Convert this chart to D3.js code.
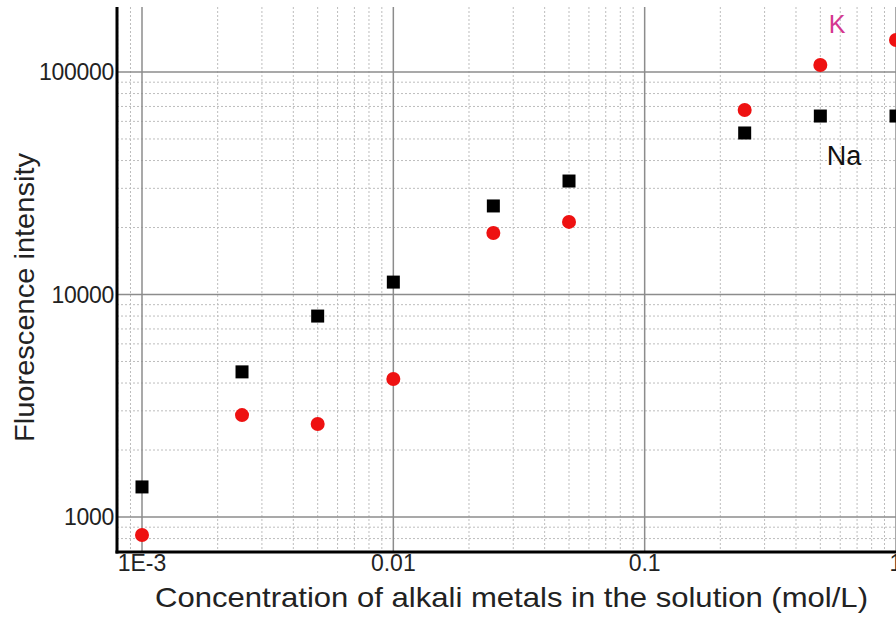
<!DOCTYPE html>
<html>
<head>
<meta charset="utf-8">
<script src="https://cdn.jsdelivr.net/npm/d3@7"></script>
<style>
  body { margin: 0; background: #fff; }
  svg { display: block; font-family: Arial, "Liberation Sans", sans-serif; }
</style>
</head>
<body>
<div id="chart"></div>
<script>
// concentration (mol/L) and fluorescence intensity
const conc = [0.001, 0.0025, 0.005, 0.01, 0.025, 0.05, 0.25, 0.5, 1];
const naVals = [1365, 4490, 8000, 11370, 25000, 32360, 53200, 63400, 63400];
const kVals = [830, 2870, 2620, 4170, 18900, 21200, 67500, 107500, 139300];
const xTicks = [0.001, 0.01, 0.1, 1];
const xTickLabels = ["1E-3", "0.01", "0.1", "1"];
const yTicks = [1000, 10000, 100000];
const yTickLabels = ["1000", "10000", "100000"];

const width = 896, height = 618;
const plot = {left: 117, top: 7, right: 915, bottom: 552};

const svg = d3.select("#chart").append("svg")
  .attr("width", width)
  .attr("height", height);

const x = d3.scaleLog().domain([0.001, 1]).range([142, 896]);
const y = d3.scaleLog().domain([1000, 100000]).range([517, 72]);

const xMin = x.invert(plot.left), xMax = x.invert(plot.right);
const yMin = y.invert(plot.bottom), yMax = y.invert(plot.top);

// minor grid values: k * 10^n
function minorVals(lo, hi) {
  const out = [];
  for (let e = Math.floor(Math.log10(lo)); e <= Math.ceil(Math.log10(hi)); e++) {
    for (let k = 2; k <= 9; k++) {
      const v = k * Math.pow(10, e);
      if (v > lo && v < hi) out.push(v);
    }
  }
  return out;
}
function majorVals(lo, hi) {
  const out = [];
  for (let e = Math.floor(Math.log10(lo)); e <= Math.ceil(Math.log10(hi)); e++) {
    const v = Math.pow(10, e);
    if (v > lo && v < hi) out.push(v);
  }
  return out;
}

const grid = svg.append("g");

grid.selectAll(".xminor")
  .data(minorVals(xMin, xMax))
  .join("line")
  .attr("x1", d => x(d)).attr("x2", d => x(d))
  .attr("y1", plot.top).attr("y2", plot.bottom)
  .attr("stroke", "#bdbdbd")
  .attr("stroke-width", 1)
  .attr("stroke-dasharray", "2,2");

grid.selectAll(".yminor")
  .data(minorVals(yMin, yMax))
  .join("line")
  .attr("y1", d => y(d)).attr("y2", d => y(d))
  .attr("x1", plot.left).attr("x2", plot.right)
  .attr("stroke", "#bdbdbd")
  .attr("stroke-width", 1)
  .attr("stroke-dasharray", "2,2");

grid.selectAll(".xmajor")
  .data(majorVals(xMin, xMax))
  .join("line")
  .attr("x1", d => x(d)).attr("x2", d => x(d))
  .attr("y1", plot.top).attr("y2", plot.bottom)
  .attr("stroke", "#8c8c8c")
  .attr("stroke-width", 1.5);

grid.selectAll(".ymajor")
  .data(majorVals(yMin, yMax))
  .join("line")
  .attr("y1", d => y(d)).attr("y2", d => y(d))
  .attr("x1", plot.left).attr("x2", plot.right)
  .attr("stroke", "#8c8c8c")
  .attr("stroke-width", 1.5);

// axis lines
svg.append("line")
  .attr("x1", plot.left).attr("x2", plot.left)
  .attr("y1", plot.top).attr("y2", plot.bottom + 1.5)
  .attr("stroke", "#000").attr("stroke-width", 3);
svg.append("line")
  .attr("x1", plot.left - 1.5).attr("x2", plot.right)
  .attr("y1", plot.bottom).attr("y2", plot.bottom)
  .attr("stroke", "#000").attr("stroke-width", 3);

// tick labels
svg.selectAll(".ylab")
  .data(yTicks)
  .join("text")
  .attr("x", plot.left - 3)
  .attr("y", d => y(d))
  .attr("dy", "0.36em")
  .attr("text-anchor", "end")
  .attr("font-size", "23px")
  .attr("letter-spacing", "-0.3px")
  .attr("fill", "#222")
  .text((d, i) => yTickLabels[i]);

svg.selectAll(".xlab")
  .data(xTicks)
  .join("text")
  .attr("x", d => x(d))
  .attr("y", 571)
  .attr("text-anchor", "middle")
  .attr("font-size", "23px")
  .attr("fill", "#222")
  .text((d, i) => xTickLabels[i]);

// axis titles
svg.append("text")
  .attr("x", 155)
  .attr("y", 607)
  .attr("font-size", "28px")
  .attr("textLength", 713)
  .attr("lengthAdjust", "spacingAndGlyphs")
  .attr("fill", "#222")
  .text("Concentration of alkali metals in the solution (mol/L)");

svg.append("text")
  .attr("transform", "translate(34,442) rotate(-90)")
  .attr("font-size", "28px")
  .attr("textLength", 289)
  .attr("lengthAdjust", "spacingAndGlyphs")
  .attr("fill", "#222")
  .text("Fluorescence intensity");

// points
const pts = conc.map((c, i) => ({c: c, na: naVals[i], k: kVals[i]}));
const sq = 13;

svg.selectAll(".na")
  .data(pts)
  .join("rect")
  .attr("x", d => x(d.c) - sq / 2)
  .attr("y", d => y(d.na) - sq / 2)
  .attr("width", sq)
  .attr("height", sq)
  .attr("fill", "#000");

svg.selectAll(".k")
  .data(pts)
  .join("circle")
  .attr("cx", d => x(d.c))
  .attr("cy", d => y(d.k))
  .attr("r", 7)
  .attr("fill", "#ee1111");

// series labels
svg.append("text")
  .attr("x", 837)
  .attr("y", 33)
  .attr("text-anchor", "middle")
  .attr("font-size", "25px")
  .attr("fill", "#d4378f")
  .text("K");

svg.append("text")
  .attr("x", 844)
  .attr("y", 165)
  .attr("text-anchor", "middle")
  .attr("font-size", "27px")
  .attr("fill", "#111")
  .text("Na");
</script>
</body>
</html>
